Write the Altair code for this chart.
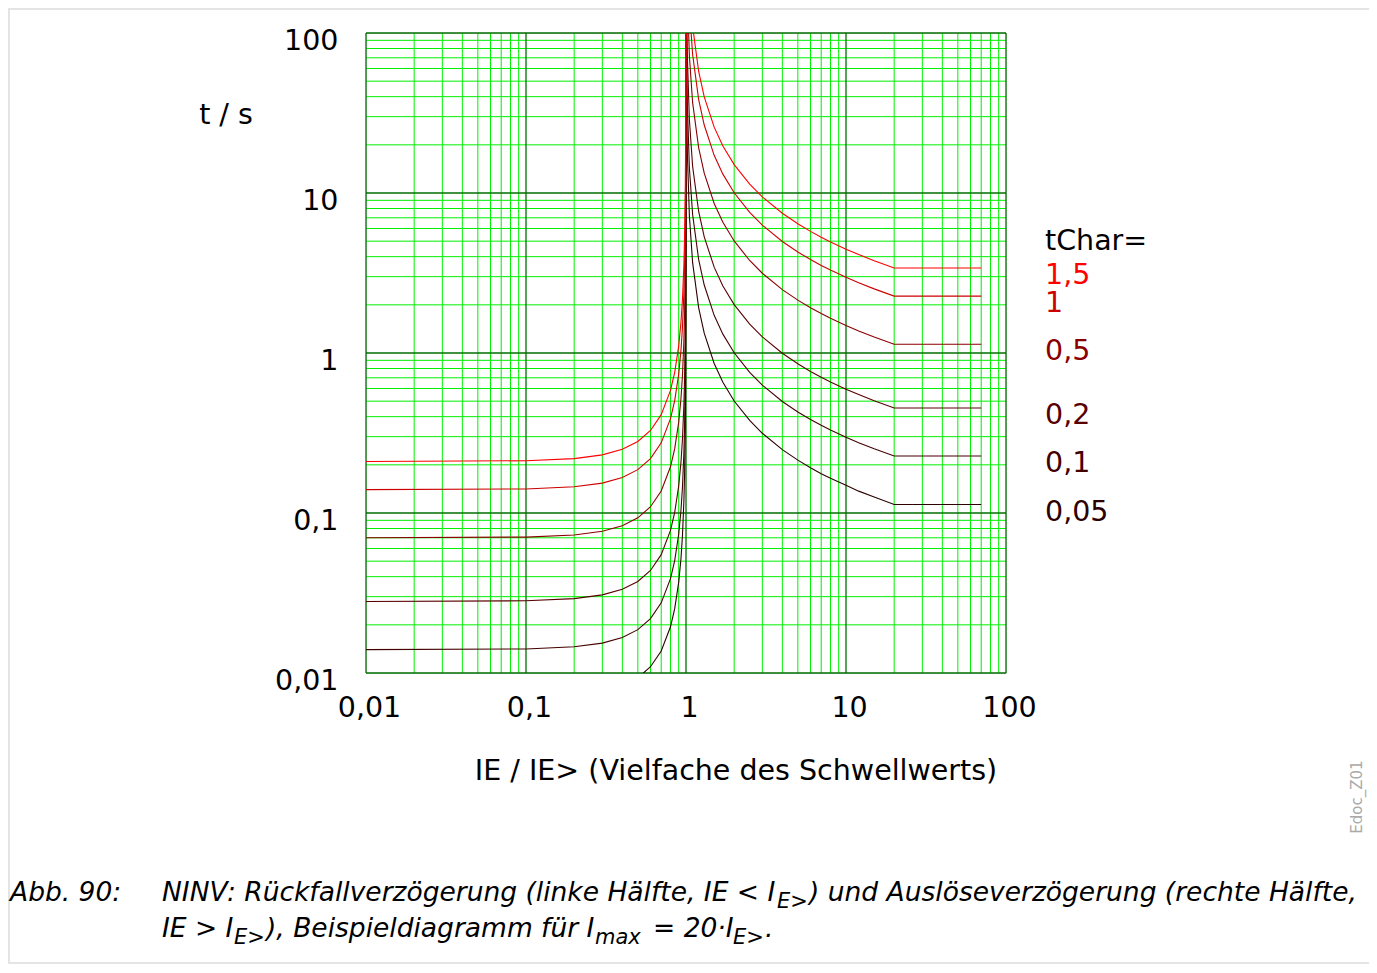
import altair as alt
import pandas as pd

# ---------------- data ----------------
t_chars = ["1,5", "1", "0,5", "0,2", "0,1", "0,05"]
curve_colors = ["#ff0000", "#cc0000", "#8a0000", "#580000", "#440000", "#2c0000"]

# reset side (IE < IE>)
x_reset = [0.01, 0.1, 0.2, 0.3, 0.4, 0.5, 0.6, 0.7, 0.8, 0.85, 0.9, 0.93, 0.95,
           0.97, 0.98, 0.99, 0.995, 0.998, 0.999, 0.9999, 0.99999]
reset_15 = [0.210, 0.2121, 0.2188, 0.2308, 0.2500, 0.2800, 0.3281, 0.4118, 0.5833, 0.7568,
            1.105, 1.554, 2.154, 3.553, 5.303, 10.55, 21.05, 52.55, 105.1, 1050, 10500]
reset_1 = [0.140, 0.1414, 0.1458, 0.1538, 0.1667, 0.1867, 0.2188, 0.2745, 0.3889, 0.5045,
           0.7368, 1.036, 1.436, 2.369, 3.535, 7.035, 14.04, 35.04, 70.04, 700.0, 7000]
reset_05 = [0.070, 0.0707, 0.0729, 0.0769, 0.0833, 0.0933, 0.1094, 0.1373, 0.1944, 0.2523,
            0.3684, 0.5181, 0.7179, 1.184, 1.768, 3.518, 7.018, 17.52, 35.02, 350.0, 3500]
reset_02 = [0.028, 0.02828, 0.02917, 0.03077, 0.03333, 0.03733, 0.04375, 0.0549, 0.07778,
            0.1009, 0.1474, 0.2073, 0.2872, 0.4738, 0.7071, 1.407, 2.807, 7.007, 14.01, 140.0, 1400]
reset_01 = [0.014, 0.01414, 0.01458, 0.01538, 0.01667, 0.01867, 0.02188, 0.02745, 0.03889,
            0.05045, 0.07368, 0.1036, 0.1436, 0.2369, 0.3535, 0.7035, 1.404, 3.504, 7.004, 70.0, 700]
reset_005 = [0.007, 0.00707, 0.00729, 0.00769, 0.00833, 0.00933, 0.01094, 0.01373, 0.01944,
             0.02523, 0.03684, 0.05181, 0.07179, 0.1184, 0.1768, 0.3518, 0.7018, 1.752, 3.502, 35.0, 350]

# trip side (IE > IE>), flat beyond Imax = 20
x_trip = [1.00001, 1.0001, 1.001, 1.003, 1.01, 1.02, 1.05, 1.1, 1.2, 1.3, 1.5, 1.7, 2, 2.5,
          3, 4, 5, 6, 7, 8, 10, 12, 15, 20, 70]
trip_15 = [1050000, 105000, 10505, 3506, 1055, 530.1, 215.1, 110.1, 57.48, 39.92, 25.79, 19.68,
           15.04, 11.36, 9.453, 7.470, 6.420, 5.756, 5.292, 4.946, 4.457, 4.122, 3.774, 3.401, 3.401]
trip_1 = [700000, 70000, 7003, 2337, 703.4, 353.4, 143.4, 73.37, 38.32, 26.61, 17.19, 13.12,
          10.03, 7.570, 6.302, 4.980, 4.280, 3.837, 3.528, 3.297, 2.971, 2.748, 2.516, 2.267, 2.267]
trip_05 = [350000, 35000, 3502, 1169, 351.7, 176.7, 71.7, 36.69, 19.16, 13.31, 8.597, 6.561,
           5.015, 3.785, 3.151, 2.490, 2.140, 1.919, 1.764, 1.649, 1.486, 1.374, 1.258, 1.134, 1.134]
trip_02 = [140000, 14000, 1401, 467.4, 140.7, 70.68, 28.68, 14.67, 7.664, 5.322, 3.439, 2.624,
           2.006, 1.514, 1.260, 0.996, 0.856, 0.767, 0.706, 0.659, 0.594, 0.550, 0.503, 0.453, 0.453]
trip_01 = [70000, 7000, 700.3, 233.7, 70.34, 35.34, 14.34, 7.337, 3.832, 2.661, 1.719, 1.312,
           1.003, 0.757, 0.630, 0.498, 0.428, 0.384, 0.353, 0.330, 0.297, 0.275, 0.252, 0.227, 0.227]
trip_005 = [35000, 3500, 350.2, 116.9, 35.17, 17.67, 7.17, 3.669, 1.916, 1.331, 0.860, 0.656,
            0.501, 0.379, 0.315, 0.249, 0.214, 0.192, 0.176, 0.165, 0.149, 0.137, 0.126, 0.113, 0.113]

# flat levels used for the tChar labels
label_levels = [3.401, 2.267, 1.134, 0.453, 0.227, 0.113]

# axis ticks and grid
decades = [0.01, 0.1, 1, 10, 100]
minor_grid = [m * d for d in [0.01, 0.1, 1, 10] for m in range(2, 10)]

x_title = "IE / IE> (Vielfache des Schwellwerts)"
y_title = "t / s"

# ---------------- build tables ----------------
resets = [reset_15, reset_1, reset_05, reset_02, reset_01, reset_005]
trips = [trip_15, trip_1, trip_05, trip_02, trip_01, trip_005]
curve_tables = []
for name, rv, tv in zip(t_chars, resets, trips):
    rows = []
    for x, y in zip(x_reset, rv):
        rows.append({"x": x, "t": y, "tChar": name, "part": "r"})
    for x, y in zip(x_trip, tv):
        rows.append({"x": x, "t": y, "tChar": name, "part": "t"})
    curve_tables.append(pd.DataFrame(rows))
labels = pd.DataFrame({"tChar": t_chars, "t": label_levels})
minor_df = pd.DataFrame({"v": minor_grid})
major_df = pd.DataFrame({"v": decades})
one = pd.DataFrame({"a": [0]})

FONT = "DejaVu Sans"
FS = 28.5
xscale = alt.Scale(type="log", domain=[0.01, 100], nice=False)
yscale = alt.Scale(type="log", domain=[0.01, 100], nice=False)
lab = "replace(format(datum.value, '~g'), '.', ',')"
xaxis = alt.Axis(values=decades, labelExpr=lab, grid=False, ticks=False, domain=False,
                 title=None, labelFont=FONT, labelFontSize=FS, labelColor="black",
                 labelPadding=20, labelOffset=3, labelFlush=False, labelOverlap=False)
yaxis = alt.Axis(values=decades, labelExpr=lab, grid=False, ticks=False, domain=False,
                 title=None, labelFont=FONT, labelFontSize=FS, labelColor="black",
                 labelPadding=28, labelOffset=7, labelFlush=False, labelOverlap=False)
color = alt.Color("tChar:N", scale=alt.Scale(domain=t_chars, range=curve_colors), legend=None)

vgrid_minor = alt.Chart(minor_df).mark_rule(color="#00f000", strokeWidth=1).encode(
    x=alt.X("v:Q", scale=xscale, axis=xaxis))
hgrid_minor = alt.Chart(minor_df).mark_rule(color="#00f000", strokeWidth=1).encode(
    y=alt.Y("v:Q", scale=yscale, axis=yaxis))
vgrid_major = alt.Chart(major_df).mark_rule(color="#006e00", strokeWidth=1.3).encode(
    x=alt.X("v:Q", scale=xscale, axis=xaxis))
hgrid_major = alt.Chart(major_df).mark_rule(color="#006e00", strokeWidth=1.3).encode(
    y=alt.Y("v:Q", scale=yscale, axis=yaxis))

# draw the lowest curve first so the red ones lie on top
line_layers = []
for df in reversed(curve_tables):
    line_layers.append(
        alt.Chart(df).mark_line(clip=True, strokeWidth=1.1, interpolate="linear").encode(
            x=alt.X("x:Q", scale=xscale, axis=xaxis),
            y=alt.Y("t:Q", scale=yscale, axis=yaxis),
            color=color,
            detail="part:N",
            order="x:Q",
        )
    )

label_text = alt.Chart(labels).mark_text(align="left", baseline="middle", font=FONT,
                                         fontSize=FS, dy=7).encode(
    x=alt.value(679),
    y=alt.Y("t:Q", scale=yscale, axis=yaxis),
    text="tChar:N",
    color=color,
)


def txt(s, x, y, size=FS, align="center", baseline="middle", style="normal",
        color="black", angle=0):
    return alt.Chart(one).mark_text(text=s, align=align, baseline=baseline, font=FONT,
                                    fontSize=size, fontStyle=style, color=color,
                                    angle=angle).encode(x=alt.value(x), y=alt.value(y))


annot = [
    txt("tChar=", 679, 208, align="left"),
    txt(y_title, -140, 82),
    txt(x_title, 370, 738),
    txt("Edoc_Z01", 991, 764, size=15, color="#aaaaaa", angle=270),
]

# caption (italic) with subscripts
cap = []
CS, SS = 26.5, 21
b1, b2 = 868, 904
kw = dict(align="left", baseline="alphabetic", style="italic")
cap.append(txt("Abb. 90:", -356, b1, size=CS, **kw))
cap.append(txt("NINV: Rückfallverzögerung (linke Hälfte, IE < I", -204, b1, size=CS, **kw))
cap.append(txt("E>", 411, b1 + 7, size=SS, **kw))
cap.append(txt(") und Auslöseverzögerung (rechte Hälfte,", 443, b1, size=CS, **kw))
cap.append(txt("IE > I", -204, b2, size=CS, **kw))
cap.append(txt("E>", -132, b2 + 7, size=SS, **kw))
cap.append(txt("), Beispieldiagramm für I", -100, b2, size=CS, **kw))
cap.append(txt("max", 229, b2 + 7, size=SS, **kw))
cap.append(txt("= 20·I", 287, b2, size=CS, **kw))
cap.append(txt("E>", 367, b2 + 7, size=SS, **kw))
cap.append(txt(".", 399, b2, size=CS, **kw))

border = alt.Chart(one).mark_rect(fill=None, stroke="#e4e4e4", strokeWidth=2).encode(
    x=alt.value(-357), x2=alt.value(1006), y=alt.value(-24), y2=alt.value(930))

chart = alt.layer(border, vgrid_minor, hgrid_minor, vgrid_major, hgrid_major, *line_layers,
                  label_text, *annot, *cap).properties(
    width=640, height=640,
    autosize=alt.AutoSizeParams(type="none"),
    padding={"left": 358, "top": 25, "right": 363, "bottom": 292},
).configure_view(stroke="#0a3a0a", strokeWidth=1.5).configure(background="white")

chart.save("out.html", embed_options={"renderer": "svg", "actions": False})
